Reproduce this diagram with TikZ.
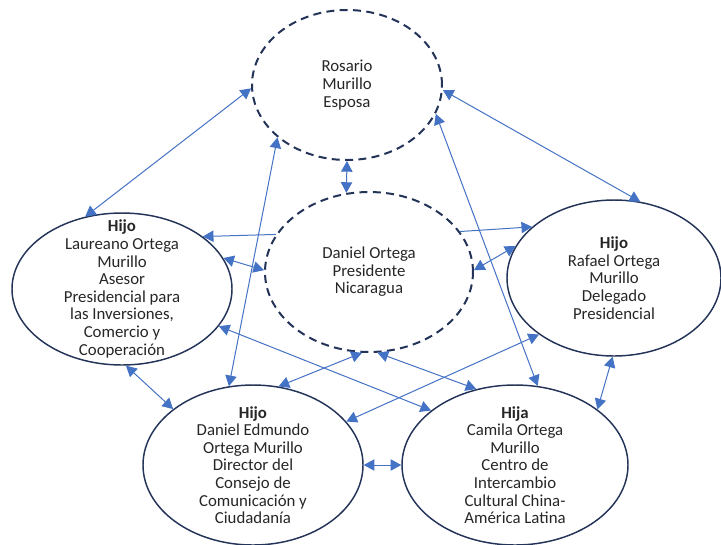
\documentclass[tikz,border=0pt]{standalone}
\usepackage{fontspec}
\setmainfont{Carlito}
\usetikzlibrary{
    arrows.meta,
    shapes.geometric
    }
\definecolor{ink}{HTML}{233458}
\definecolor{linkblue}{HTML}{4472C4}

\begin{document}
\begin{tikzpicture}[x=0.75pt, y=-0.75pt]
\tikzset{person/.style =
        {
            shape=ellipse,
            line width=1.1pt,
            draw=ink,
            inner sep=0pt
        }
}

\tikzset{leader/.style =
        {
            person,
            line width=1.5pt,
            dash pattern=on 6pt off 4pt
        }
}

\tikzset{caption/.style =
        {
            align=center,
            text=black!85,
            font=\fontsize{12.6}{13.2}\selectfont
        }
}

\tikzset{tie/.style = {
            line width=0.75pt,
            draw=linkblue,
            {Triangle[length=8pt,width=8.5pt]}-{Triangle[length=8pt,width=8.5pt]}
        }
}

\tikzset{lead/.style = {
            tie,
            -{Triangle[length=8pt,width=8.5pt]}
        }
}
		\useasboundingbox (0,0) rectangle (721,544);

		\foreach \who / \x / \y / \rx / \ry in
			{ros/347/85/95/75,
				dan/369/272/104/80}
		\node[leader, minimum width=\rx*1.5pt, minimum height=\ry*1.5pt] (\who) at (\x,\y) {};

		\foreach \who / \x / \y / \rx / \ry in
			{lau/122/289/110/76,
				raf/614/278/107/78,
				edm/253/465/110/80,
				cam/515/465/113/80}
		\node[person, minimum width=\rx*1.5pt, minimum height=\ry*1.5pt] (\who) at (\x,\y) {};

		\node[caption] (ros-txt) at (ros) {Rosario\\Murillo\\Esposa};
		\node[caption] (dan-txt) at (dan) {Daniel Ortega\\Presidente\\Nicaragua};
		\node[caption] (lau-txt) at (lau) {\textbf{Hijo}\\Laureano Ortega\\Murillo\\Asesor\\Presidencial para\\las Inversiones,\\Comercio y\\Cooperación};
		\node[caption] (raf-txt) at (raf) {\textbf{Hijo}\\Rafael Ortega\\Murillo\\Delegado\\Presidencial};
		\node[caption] (edm-txt) at (edm) {\textbf{Hijo}\\Daniel Edmundo\\Ortega Murillo\\Director del\\Consejo de\\Comunicación y\\Ciudadanía};
		\node[caption] (cam-txt) at (cam) {\textbf{Hija}\\Camila Ortega\\Murillo\\Centro de\\Intercambio\\Cultural China-\\América Latina};

		\foreach \start / \finish in
			{lau.117/ros.182,
				ros.357/raf.71,
				ros.270/dan.106,
				edm.107/ros.217,
				cam.74/ros.342,
				lau.17/dan.179,
				dan.1/raf.162,
				lau.339/cam.147,
				dan.276/cam.117,
				dan.265/edm.72,
				raf.217/edm.25,
				raf.269/cam.34,
				lau.273/edm.145,
				edm.east/cam.west}
		\draw [tie] (\start) -- (\finish);

		\foreach \start / \finish in {dan.158/lau.33, dan.24/raf.148}
		\draw [lead] (\start) -- (\finish);

	\end{tikzpicture}
\end{document}
